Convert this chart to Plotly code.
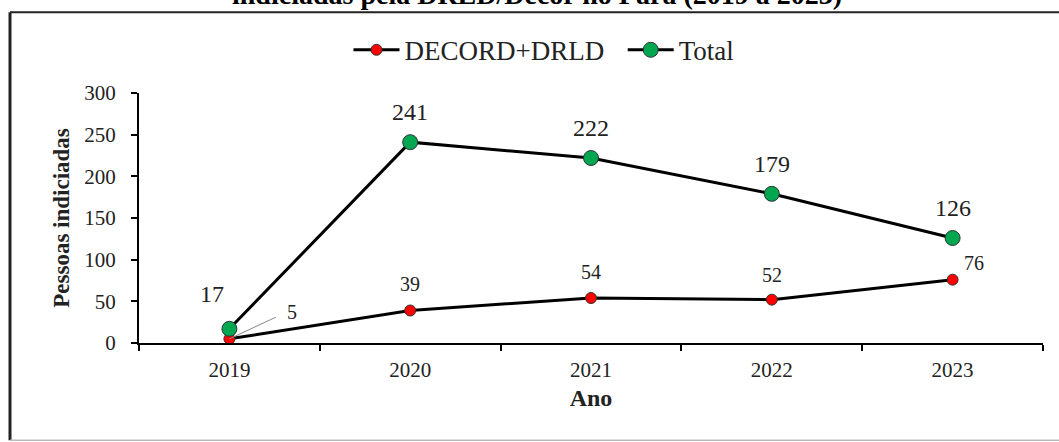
import plotly.graph_objects as go

years = ["2019", "2020", "2021", "2022", "2023"]
decord_drld = [5, 39, 54, 52, 76]
total = [17, 241, 222, 179, 126]
series_names = ["DECORD+DRLD\u00a0\u00a0", "Total"]

serif = "Liberation Serif, Times New Roman, serif"
txt = "#222222"

fig = go.Figure()
fig.add_trace(go.Scatter(
    x=years, y=decord_drld, name=series_names[0], mode="lines+markers",
    line=dict(color="black", width=3),
    marker=dict(color="#ff0000", size=11, line=dict(color="#333333", width=1)),
))
fig.add_trace(go.Scatter(
    x=years, y=total, name=series_names[1], mode="lines+markers",
    line=dict(color="black", width=3),
    marker=dict(color="#00a650", size=15, line=dict(color="#333333", width=1)),
))

ann = []
# Total labels
tot_shift = [(-17, 35), (0, 30), (0, 30), (0, 30), (0, 30)]
for i, (v, (dx, dy)) in enumerate(zip(total, tot_shift)):
    ann.append(dict(x=i, y=v, xref="x", yref="y", text=str(v), showarrow=False,
                    xshift=dx, yshift=dy, font=dict(family=serif, size=24, color=txt)))
# DECORD+DRLD labels
red_shift = [None, (0, 27), (0, 26), (0, 25), (21, 17)]
for i, (v, sh) in enumerate(zip(decord_drld, red_shift)):
    if sh is None:
        ann.append(dict(x=i, y=v, xref="x", yref="y", text="\u00a0\u00a05", showarrow=True,
                        ax=58, ay=-27, arrowhead=0, arrowwidth=1, arrowcolor="#888888",
                        standoff=0, font=dict(family=serif, size=20, color=txt)))
    else:
        ann.append(dict(x=i, y=v, xref="x", yref="y", text=str(v), showarrow=False,
                        xshift=sh[0], yshift=sh[1], font=dict(family=serif, size=20, color=txt)))

# Title (cut off at the top as in the reference)
ann.append(dict(xref="paper", yref="paper", x=0.44, y=1.395, xanchor="center", yanchor="middle",
                text="<b>indiciadas pela DRLD/Decor no Pará (2019 a 2023)</b>",
                showarrow=False, font=dict(family=serif, size=28, color="black")))

shapes = [
    dict(type="line", xref="paper", yref="paper", x0=-0.1427, x1=1.03, y0=1.3228, y1=1.3228,
         line=dict(color="#222222", width=2)),
    dict(type="line", xref="paper", yref="paper", x0=-0.1427, x1=-0.1427, y0=1.3228, y1=-0.389,
         line=dict(color="#222222", width=3)),
    dict(type="line", xref="paper", yref="paper", x0=-0.1427, x1=1.03, y0=-0.389, y1=-0.389,
         line=dict(color="#bbbbbb", width=1.5)),
]

fig.update_layout(
    width=1059, height=442,
    margin=dict(l=139, r=16, t=93, b=99, pad=0),
    paper_bgcolor="white", plot_bgcolor="white",
    font=dict(family=serif, color=txt),
    showlegend=True,
    legend=dict(orientation="h", x=0.448, y=1.171, xanchor="center", yanchor="middle",
                font=dict(family=serif, size=27, color=txt), itemwidth=46,
                bgcolor="rgba(0,0,0,0)"),
    xaxis=dict(
        type="category", tickson="boundaries", ticks="outside", ticklen=6, tickwidth=2,
        tickcolor="black", showline=True, linecolor="black", linewidth=2,
        showgrid=False, zeroline=False, range=[-0.5, 4.5], ticklabelstandoff=7,
        tickfont=dict(family=serif, size=21, color=txt),
        title=dict(text="<b>Ano</b>", font=dict(family=serif, size=24, color=txt), standoff=8),
    ),
    yaxis=dict(
        range=[0, 300], dtick=50, ticks="outside", ticklen=6, tickwidth=2, tickcolor="black",
        showline=True, linecolor="black", linewidth=2, showgrid=False, zeroline=False,
        ticklabelstandoff=11,
        tickfont=dict(family=serif, size=21, color=txt),
        title=dict(text="<b>Pessoas indiciadas</b>", font=dict(family=serif, size=23, color=txt), standoff=8),
    ),
    annotations=ann,
    shapes=shapes,
)

fig.write_html("out.html", config={"displayModeBar": False},
               post_script="document.body.style.margin='0';document.body.style.padding='0';")
